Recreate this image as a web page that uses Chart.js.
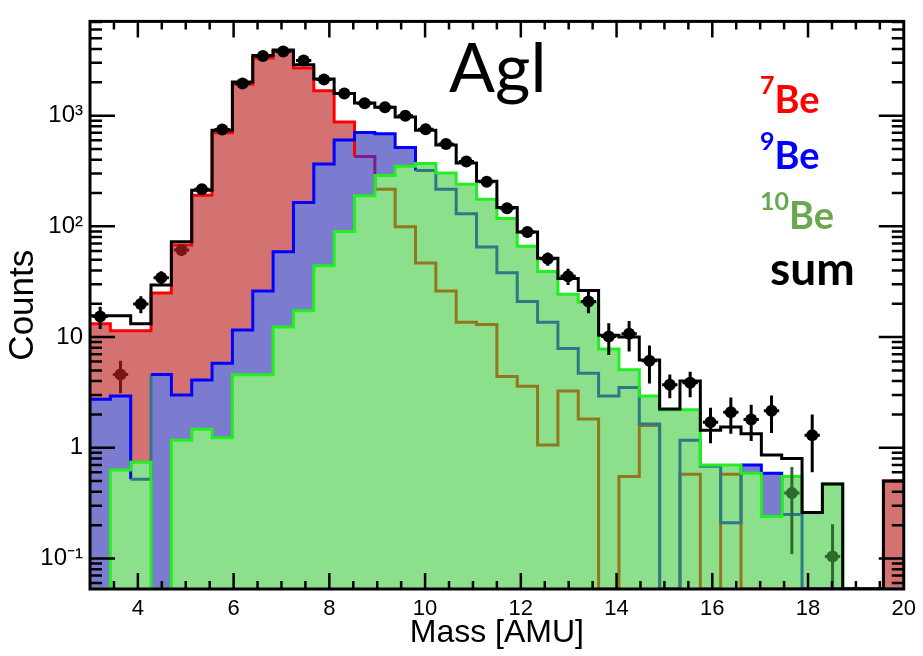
<!DOCTYPE html>
<html>
<head>
<meta charset="utf-8">
<script src="https://cdn.jsdelivr.net/npm/chart.js@4.4.0/dist/chart.umd.min.js"></script>
<style>
    html, body { margin: 0; padding: 0; background: #fff; }
    #quadro { position: relative; width: 923px; height: 656px; }
    #grafico { position: absolute; left: 0; top: 0; }
    .rotulo { position: absolute; font-family: Lato, "Open Sans", sans-serif; line-height: 1; white-space: nowrap; }
    .leg { font-weight: bold; font-size: 38px; }
    .leg span { font-size: 25px; position: relative; top: -19px; }
</style>
</head>
<body>
<div id="quadro">
    <canvas id="grafico" width="923" height="656"></canvas>
    <div class="rotulo" style="left:449px; top:32px; font-size:68px;">Agl</div>
    <div class="rotulo leg" style="left:760px; top:79px; color:#ff0000;"><span>7</span>Be</div>
    <div class="rotulo leg" style="left:760px; top:135px; color:#0000ff;"><span>9</span>Be</div>
    <div class="rotulo leg" style="left:760px; top:195px; color:#6aa84f;"><span>10</span>Be</div>
    <div class="rotulo leg" style="left:770px; top:245px; font-size:46px; color:#000;">sum</div>
</div>
<script>
// Eixos
const massaMin = 3;
const massaMax = 20;
const nBins = 40;
const yMin = 0.053;
const yMax = 7100;
const ticksX = [4, 6, 8, 10, 12, 14, 16, 18, 20];
const ticksY = [0.1, 1, 10, 100, 1000];
const rotulosY = { 0.1: '10\u207B\u00B9', 1: '1', 10: '10', 100: '10\u00B2', 1000: '10\u00B3' };

// Contagens por bin (40 bins de 3 a 20 AMU)
const be7 = [13.2, 11.4, 11.4, 25, 68, 191, 699, 1918, 3311, 3800,
    2700, 1675, 875, 428, 216, 99, 46.6, 26, 13.6, 13.0,
    4.4, 3.6, 1.06, 3.26, 1.82, 0, 0.55, 1.59, 0, 0.575,
    0, 0.575, 0, 0, 0, 0, 0, 0, 0, 0.5];
const be9 = [2.74, 2.94, 0.52, 4.6, 3.0, 4.1, 5.8, 11.6, 26, 59,
    164, 365, 602, 705, 685, 515, 320, 216, 130, 65,
    38, 21, 13.6, 7.9, 4.7, 2.94, 3.5, 1.64, 0, 1.17,
    0.68, 0.21, 0.70, 0.59, 0.25, 0, 0, 0, 0, 0];
const be10 = [0, 0.63, 0.74, 0, 1.17, 1.47, 1.23, 4.57, 4.57, 12.3,
    17.3, 44, 90, 189, 288, 349, 370, 304, 240, 176,
    118, 66, 39, 24.4, 20.6, 7.8, 5.07, 2.94, 2.2, 2.2,
    0.70, 0.70, 0.59, 0.24, 0.55, 0.26, 0.47, 0, 0, 0];
const soma = [15.6, 15.6, 13.2, 29.5, 72.6, 212, 738, 2015, 3500, 3925,
    2886, 2140, 1585, 1300, 1190, 970, 738, 543, 373, 256,
    148, 89, 51.6, 33.8, 26.4, 10.4, 10, 6.2, 2.24, 4.0,
    1.44, 1.54, 1.34, 0.86, 0.80, 0.26, 0.47, 0, 0, 0.5];
const dados = [15.3, 4.6, 19.9, 34.3, 61, 216, 748, 1950, 3450, 3800,
    3150, 2125, 1585, 1292, 1190, 1000, 754, 555, 386, 253,
    146, 89, 51, 35.5, 21, 10.1, 10.7, 6.1, 3.7, 3.86,
    1.7, 2.09, 1.8, 2.16, 0.39, 1.3, 0.104, null, null, null];
const erros = [3.5, 1.5, 3.5, 5, 7, 14, 27, 44, 59, 62,
    56, 46, 40, 36, 34, 32, 27, 24, 20, 16,
    12, 9.5, 7, 6, 4.6, 3.2, 3.3, 2.3, 0.9, 1.0,
    0.6, 0.75, 0.65, 0.8, 0.28, 0.7, 0.1, null, null, null];

const larguraBin = (massaMax - massaMin) / nBins;
const bordas = Array.from({ length: nBins + 1 }, (_, i) => massaMin + i * larguraBin);
const centros = bordas.slice(0, nBins).map(b => b + larguraBin / 2);

// Histograma em degraus: um ponto por borda esquerda + borda final
function pontosHist(vals) {
    return bordas.map((b, i) => {
        const v = vals[Math.min(i, nBins - 1)];
        return { x: b, y: v > 0 ? v : yMin };
    });
}

// Cor da linha vista através dos preenchimentos
// (bin vazio: a parte visível é a subida para o bin seguinte)
function corBe7(i) {
    if (!(be7[i] > 0) && i + 1 < nBins && be7[i + 1] > 0) i = i + 1;
    const v = be7[i];
    if (!(v > 0)) return '#ff0000';
    if (v < be10[i]) return '#93771f';
    if (v < be9[i]) return '#7a1f8a';
    return '#ff0000';
}

function corBe9(i) {
    if (!(be9[i] > 0) && i + 1 < nBins && be9[i + 1] > 0) i = i + 1;
    const v = be9[i];
    if (!(v > 0)) return '#0000ff';
    if (v < be10[i]) return '#2b7a86';
    return '#0000ff';
}

function corPonto(i) {
    const v = dados[i];
    if (v < be10[i]) return '#2d6a2d';
    if (v < be7[i]) return '#7a1515';
    return '#000';
}

function serieHist(vals, linha, fundo, ordem, corSegmento) {
    const ds = {
        data: pontosHist(vals),
        stepped: true,
        borderColor: linha,
        borderWidth: 3,
        borderJoinStyle: 'miter',
        backgroundColor: fundo,
        fill: fundo ? 'start' : false,
        pointRadius: 0,
        order: ordem
    };
    if (corSegmento) {
        ds.segment = { borderColor: ctx => corSegmento(ctx.p0DataIndex) };
    }
    return ds;
}

// Barras de erro dos dados
const barrasErro = {
    id: 'barrasErro',
    beforeDatasetDraw(chart, args) {
        if (args.index !== 4) return;
        const { ctx, chartArea: a, scales: { x, y } } = chart;
        ctx.save();
        ctx.beginPath();
        ctx.rect(a.left, a.top, a.width, a.height);
        ctx.clip();
        ctx.lineWidth = 3;
        dados.forEach((v, i) => {
            if (v == null) return;
            const px = x.getPixelForValue(centros[i]);
            const baixo = Math.max(v - erros[i], yMin);
            const alto = v + erros[i];
            const py = y.getPixelForValue(v);
            ctx.strokeStyle = corPonto(i);
            ctx.beginPath();
            ctx.moveTo(px, y.getPixelForValue(baixo));
            ctx.lineTo(px, y.getPixelForValue(alto));
            ctx.moveTo(x.getPixelForValue(centros[i] - 0.16), py);
            ctx.lineTo(x.getPixelForValue(centros[i] + 0.16), py);
            ctx.stroke();
        });
        ctx.restore();
    }
};

// Moldura e marcas para dentro, estilo ROOT
const moldura = {
    id: 'moldura',
    afterDraw(chart) {
        const { ctx, chartArea: a, scales: { x, y } } = chart;
        ctx.save();
        ctx.strokeStyle = '#000';
        ctx.lineWidth = 2.5;
        ctx.beginPath();
        for (let d = -2; d <= 3; d++) {
            for (let m = 1; m <= 9; m++) {
                const v = m * Math.pow(10, d);
                if (v < y.min || v > y.max) continue;
                const py = y.getPixelForValue(v);
                const len = m === 1 ? 25 : 12;
                ctx.moveTo(a.left, py);
                ctx.lineTo(a.left + len, py);
                ctx.moveTo(a.right, py);
                ctx.lineTo(a.right - len, py);
            }
        }
        for (let v = massaMin + 0.5; v < massaMax; v += 0.5) {
            const px = x.getPixelForValue(v);
            const len = v % 2 === 0 ? 16 : 8;
            ctx.moveTo(px, a.top);
            ctx.lineTo(px, a.top + len);
            ctx.moveTo(px, a.bottom);
            ctx.lineTo(px, a.bottom - len);
        }
        ctx.stroke();
        ctx.lineWidth = 3;
        ctx.strokeRect(a.left, a.top, a.width, a.height);
        ctx.restore();
    }
};

function criarGrafico() {
    Chart.defaults.color = '#000';
    Chart.defaults.font.family = '"Liberation Sans", Arial, sans-serif';

    const ctx = document.getElementById('grafico').getContext('2d');
    new Chart(ctx, {
        type: 'line',
        data: {
            datasets: [
                serieHist(be7, '#ff0000', '#d47272', 4, corBe7),
                serieHist(be9, '#0000ff', '#7b7bd0', 3, corBe9),
                serieHist(be10, '#22ee22', '#8ce08c', 2, null),
                serieHist(soma, '#000000', null, 1, null),
                {
                    data: centros.map((c, i) => ({ x: c, y: dados[i] })),
                    showLine: false,
                    pointRadius: 6,
                    pointHoverRadius: 6,
                    pointBorderWidth: 0,
                    pointBackgroundColor: c => corPonto(c.dataIndex),
                    order: 0
                }
            ]
        },
        options: {
            responsive: false,
            animation: false,
            layout: { padding: { top: 12, right: 18, left: 0, bottom: 0 } },
            plugins: {
                legend: { display: false },
                tooltip: { enabled: false },
                filler: { drawTime: 'beforeDatasetsDraw' }
            },
            scales: {
                x: {
                    type: 'linear',
                    min: massaMin,
                    max: massaMax,
                    grid: { display: false, drawTicks: false },
                    border: { display: false },
                    afterBuildTicks: s => { s.ticks = ticksX.map(v => ({ value: v })); },
                    afterFit: s => { s.height = 67; },
                    ticks: { font: { size: 22 }, padding: 7, maxRotation: 0 },
                    title: { display: true, text: 'Mass [AMU]', font: { size: 32 }, padding: { top: 0, bottom: 4 } }
                },
                y: {
                    type: 'logarithmic',
                    min: yMin,
                    max: yMax,
                    grid: { display: false, drawTicks: false },
                    border: { display: false },
                    afterBuildTicks: s => { s.ticks = ticksY.map(v => ({ value: v })); },
                    afterFit: s => { s.width = 90; },
                    ticks: { font: { size: 24 }, padding: 7, callback: v => rotulosY[v] },
                    title: { display: true, text: 'Counts', font: { size: 35 }, padding: { top: 2, bottom: 0 } }
                }
            }
        },
        plugins: [barrasErro, moldura]
    });
}

document.addEventListener('DOMContentLoaded', criarGrafico);
</script>
</body>
</html>
